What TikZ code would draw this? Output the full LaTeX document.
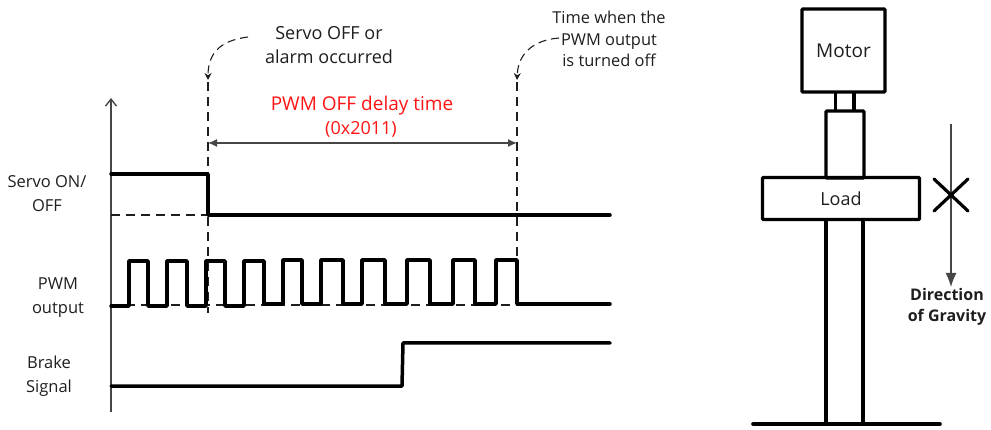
\documentclass[tikz,border=0pt]{standalone}
\usepackage{fontspec}
\setmainfont{Open Sans}
\usepackage{tikz}
\usetikzlibrary{positioning,calc,arrows.meta}
\definecolor{axisgray}{RGB}{70,70,70}
\definecolor{labelblack}{RGB}{30,30,30}
\definecolor{delayred}{RGB}{255,20,20}

\begin{document}
\begin{tikzpicture}[
  x=1pt,y=-1pt,
  signal/.style={line width=3.5pt,line join=round,line cap=round},
  guide/.style={line width=1.1pt,dash pattern=on 9pt off 6pt,labelblack},
  callout/.style={line width=1.1pt,dash pattern=on 8pt off 5pt,labelblack,-{Stealth[length=7pt,width=7pt]}},
  part/.style={draw,line width=3.4pt,rounded corners=1pt,fill=white,inner sep=0pt,text=labelblack},
  leg/.style={line width=3.4pt},
  label/.style={align=center,inner sep=0pt,text=labelblack,font=\fontsize{16.5}{24}\selectfont},
  note/.style={align=center,inner sep=0pt,text=labelblack,font=\fontsize{18}{24}\selectfont},
  small/.style={align=center,inner sep=0pt,text=labelblack,font=\fontsize{16.4}{21.5}\selectfont}
]
  \useasboundingbox (0,0) rectangle (991,430);

  % left axis
  \coordinate (axisbot) at (111,412);
  \coordinate (axistop) at (111,98);
  \draw[line width=1.4pt,axisgray,-{Straight Barb[length=7pt,width=11pt]}] (axisbot) -- (axistop);

  % time marks
  \coordinate (offtop) at (208,82);
  \coordinate (offbot) at (208,313);
  \coordinate (pwmtop) at (517,82);
  \coordinate (pwmbot) at (517,262);
  \draw[guide] (offtop) -- (offbot);
  \draw[guide] (pwmtop) -- (pwmbot);

  % signals
  \draw[guide] (111,215) -- (208,215);
  \draw[guide] (111,305) -- (517,305);
  \draw[signal] (111,174) -- (208,174) -- (208,215) -- (610,215);
  \draw[signal] (111,306) -- (129,306) -- (129,261) -- (148,261) -- (148,306)
    -- (167,306) -- (167,261) -- (187,261) -- (187,306) -- (206,306) -- (206,261)
    -- (225,261) -- (225,306) -- (244,306) -- (244,261) -- (264,261) -- (264,304)
    -- (283,304) -- (283,260) -- (302,260) -- (302,304) -- (321,304) -- (321,260)
    -- (343,260) -- (343,304) -- (362,304) -- (362,260) -- (385,260) -- (385,304)
    -- (407,304) -- (407,260) -- (430,260) -- (430,304) -- (453,304) -- (453,260)
    -- (475,260) -- (475,304) -- (496,304) -- (496,260) -- (517,260) -- (517,304) -- (610,304);
  \draw[signal] (111,386) -- (402,386) -- (403,343) -- (610,343);

  % signal names
  \node[label] (servolabel) at (47,194) {Servo ON/\\OFF};
  \node[label] (pwmlabel) at (58,298) {PWM\\output};
  \node[label] (brakelabel) at (49,376) {Brake\\Signal};

  % delay span
  \coordinate (spanl) at (208,143);
  \coordinate (spanr) at (517,143);
  \draw[line width=1.4pt,axisgray,{Latex[length=9pt,width=8pt]}-{Latex[length=9pt,width=8pt]}] (spanl) -- (spanr);
  \node[note,text=delayred,font=\fontsize{19}{24}\selectfont] (delay) at (362,106) {PWM OFF delay time};
  \node[note,text=delayred] (reg) at (361,129) {(0x2011)};

  % callouts
  \node[note] (offnote) at (329,45) {Servo OFF or\\alarm occurred};
  \node[small] (pwmnote) at (609,39) {Time when the\\PWM output\\is turned off};
  \coordinate (offtip) at (208,80);
  \coordinate (pwmtip) at (517,80);
  \draw[callout] (248,37) .. controls (224,40) and (208,50) .. (offtip);
  \draw[callout] (559,38) .. controls (535,40) and (518,52) .. (pwmtip);

  % motor and load
  \node[part,minimum width=83pt,minimum height=83pt,font=\fontsize{19}{23}\selectfont] (motor) at (843.5,50.5) {Motor};
  \node[part,minimum width=157pt,minimum height=42pt,font=\fontsize{18}{22}\selectfont] (load) at (841,198.5) {Load};
  \node[draw,line width=3.4pt,rounded corners=1pt,minimum width=38pt,minimum height=67pt,inner sep=0pt] (shaft) at (845,144.5) {};
  \coordinate (baseleft) at (753,424);
  \coordinate (baseright) at (940,424);
  \draw[leg] (835.5,92) -- (835.5,111);
  \draw[leg] (854,92) -- (854,111);
  \draw[leg] (826,220) -- (826,424);
  \draw[leg] (863,220) -- (863,424);
  \draw[line width=3.6pt,line cap=round] (baseleft) -- (baseright);

  % gravity
  \coordinate (gravtop) at (951,124);
  \node[align=center,inner sep=0pt,text=labelblack,font=\fontsize{16}{21}\selectfont\bfseries] (gravity) at (947,307) {Direction\\of Gravity};
  \draw[line width=1.4pt,axisgray,-{Latex[length=14pt,width=11pt]}] (gravtop) -- (951,287);
  \coordinate (crossa) at (934,179);
  \coordinate (crossb) at (968,211);
  \coordinate (crossc) at (968,179);
  \coordinate (crossd) at (934,211);
  \draw[line width=3.2pt,line cap=round] (crossa) -- (crossb);
  \draw[line width=3.2pt,line cap=round] (crossc) -- (crossd);
\end{tikzpicture}
\end{document}
